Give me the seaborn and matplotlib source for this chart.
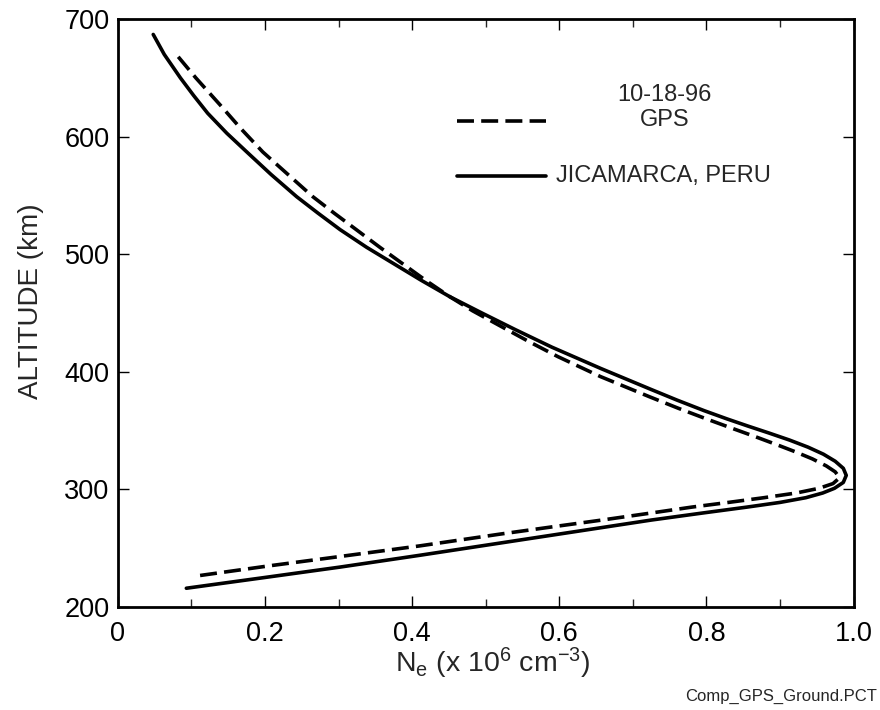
"""
Electron density profile: GPS vs Jicamarca ground measurement
"""

import matplotlib.pyplot as plt
import seaborn as sns
import pandas as pd
from matplotlib.ticker import MultipleLocator, FixedLocator

# Jicamarca (solid), top to bottom
jic_alt = [687, 670, 650, 635, 620, 603, 586, 568, 549, 535, 521, 506, 492, 478,
           464, 450, 436, 421, 403, 385, 376, 367, 360, 354, 348, 342, 336, 330,
           324, 318, 312, 306, 301, 297, 293, 289, 285, 280, 274, 264, 254, 244,
           234, 225, 216]
jic_ne = [0.048, 0.063, 0.085, 0.103, 0.122, 0.148, 0.177, 0.208, 0.243, 0.272,
          0.302, 0.338, 0.375, 0.412, 0.451, 0.495, 0.540, 0.590, 0.656, 0.725,
          0.760, 0.797, 0.828, 0.856, 0.885, 0.913, 0.938, 0.959, 0.975, 0.986,
          0.990, 0.986, 0.974, 0.958, 0.935, 0.900, 0.855, 0.795, 0.725, 0.620,
          0.515, 0.410, 0.302, 0.198, 0.093]

# GPS 10-18-96 (dashed)
gps_alt = [668, 650, 627, 607, 587, 568, 549, 535, 521, 506, 492, 478, 464, 452,
           440, 426, 413, 396, 379, 369, 360, 352, 345, 338, 332, 326, 320, 315,
           310, 305, 301, 297, 293, 289, 285, 280, 274, 268, 262, 252, 243, 235,
           226]
gps_ne = [0.082, 0.106, 0.139, 0.167, 0.197, 0.231, 0.265, 0.294, 0.324, 0.356,
          0.387, 0.418, 0.451, 0.482, 0.517, 0.558, 0.598, 0.656, 0.722, 0.762,
          0.800, 0.835, 0.866, 0.896, 0.921, 0.944, 0.963, 0.975, 0.981, 0.972,
          0.953, 0.922, 0.878, 0.830, 0.780, 0.725, 0.658, 0.588, 0.519, 0.410,
          0.302, 0.205, 0.102]

x_ticks = [0, 0.2, 0.4, 0.6, 0.8, 1.0]
x_ticklabels = ['0', '0.2', '0.4', '0.6', '0.8', '1.0']
y_ticks = [200, 300, 400, 500, 600, 700]

sns.set_style('ticks')
plt.rcParams['font.family'] = ['Liberation Sans', 'DejaVu Sans']
plt.rcParams['mathtext.fontset'] = 'custom'
plt.rcParams['mathtext.rm'] = 'Liberation Sans'
plt.rcParams['mathtext.it'] = 'Liberation Sans:italic'

LW = 2.6
DASH = (4.7, 2.0)

jic_df = pd.DataFrame({'ne': jic_ne, 'alt': jic_alt})
gps_df = pd.DataFrame({'ne': gps_ne, 'alt': gps_alt})

fig = plt.figure(figsize=(8.8, 7.1), dpi=100)
ax = fig.add_axes([0.134, 0.145, 0.836, 0.828])

sns.lineplot(data=jic_df, x='ne', y='alt', sort=False, estimator=None,
             color='black', linewidth=LW, ax=ax)
sns.lineplot(data=gps_df, x='ne', y='alt', sort=False, estimator=None,
             color='black', linewidth=LW, ax=ax)
ax.lines[0].set_solid_joinstyle('round')
ax.lines[-1].set_dashes(DASH)
ax.lines[-1].set_dash_capstyle('butt')
ax.lines[-1].set_dash_joinstyle('round')

ax.set_xlim(0, 1.0)
ax.set_ylim(200, 700)
ax.xaxis.set_major_locator(FixedLocator(x_ticks))
ax.set_xticklabels(x_ticklabels)
ax.xaxis.set_minor_locator(MultipleLocator(0.1))
ax.yaxis.set_major_locator(FixedLocator(y_ticks))

ax.tick_params(axis='both', which='major', direction='in', top=True, right=True,
               length=8, width=1.0, labelsize=19.5, colors='black')
ax.tick_params(axis='x', which='minor', direction='in', top=True,
               length=6, width=1.0)
ax.tick_params(axis='x', which='major', pad=10)
ax.tick_params(axis='y', which='major', pad=6)
for s in ax.spines.values():
    s.set_linewidth(2.0)
    s.set_color('black')

ax.set_xlabel(r'N$_\mathrm{e}$ (x 10$^\mathrm{6}$ cm$^{-3}$)', fontsize=20.5)
ax.xaxis.set_label_coords(0.51, -0.066)
ax.set_ylabel('ALTITUDE (km)', fontsize=20)
ax.yaxis.set_label_coords(-0.100, 0.52)

# legend drawn by hand to keep the original layout
ax.plot([0.461, 0.582], [0.827, 0.827], transform=ax.transAxes, color='black',
        linewidth=LW, dashes=DASH, dash_capstyle='butt')
ax.text(0.743, 0.871, '10-18-96', transform=ax.transAxes, ha='center', va='center', fontsize=17)
ax.text(0.743, 0.828, 'GPS', transform=ax.transAxes, ha='center', va='center', fontsize=17)
ax.plot([0.461, 0.582], [0.733, 0.733], transform=ax.transAxes, color='black', linewidth=LW)
ax.text(0.595, 0.733, 'JICAMARCA, PERU', transform=ax.transAxes, ha='left', va='center', fontsize=17)

fig.text(0.997, 0.008, 'Comp_GPS_Ground.PCT', ha='right', va='bottom', fontsize=12)

plt.savefig('out.png', dpi=100)
